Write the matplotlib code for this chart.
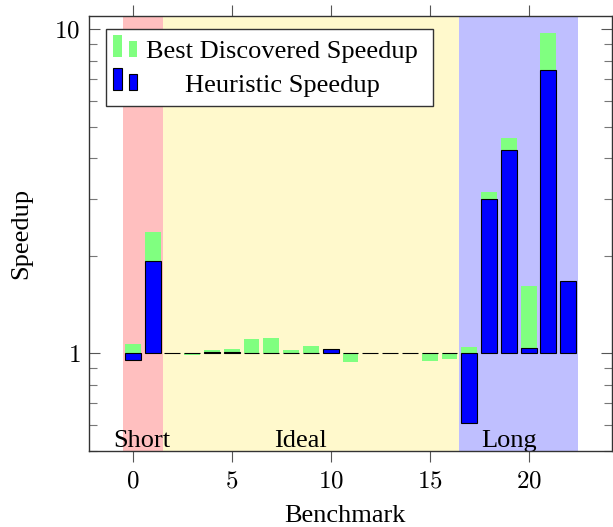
import numpy as np
import matplotlib
matplotlib.use("Agg")
import matplotlib.pyplot as plt
from matplotlib.patches import Rectangle
from matplotlib.ticker import FixedLocator, LogLocator, NullFormatter, FuncFormatter

plt.rcParams['font.family'] = ['Liberation Serif', 'DejaVu Serif']
plt.rcParams['mathtext.fontset'] = 'cm'

# data
benchmarks = np.arange(23)
best_speedup = [1.066, 2.37, 1.0, 0.99, 1.02, 1.03, 1.106, 1.11, 1.02, 1.05, 1.03, 0.94,
                1.0, 1.0, 1.0, 0.945, 0.956, 1.043, 3.14, 4.60, 1.61, 9.70, 1.67]
heur_speedup = [0.951, 1.92, 1.0, 1.0, 1.005, 1.005, 1.0, 1.0, 1.0, 1.0, 1.027, 1.0,
                1.004, 1.0, 1.0, 1.0, 1.0, 0.608, 2.99, 4.23, 1.038, 7.46, 1.67]
regions = ['Short', 'Ideal', 'Long']
region_bounds = [(-0.5, 1.5), (1.5, 16.5), (16.5, 22.5)]
region_colors = ['#FFBFBF', '#FFF9CC', '#BFBFFF']
legend_labels = ['Best Discovered Speedup', 'Heuristic Speedup']

W, H = 613, 527
fig = plt.figure(figsize=(W / 100, H / 100), dpi=100)
L, R, T, B = 88.5, 611.7, 15.7, 450.7
ax = fig.add_axes([L / W, 1 - B / H, (R - L) / W, (B - T) / H])

# shaded regions
for (lo, hi), c in zip(region_bounds, region_colors):
    ax.axvspan(lo, hi, color=c, lw=0, zorder=0)

best = np.array(best_speedup)
heur = np.array(heur_speedup)
ax.bar(benchmarks, best - 1, bottom=1, width=0.8, color='#80FF80', lw=0, zorder=2)
ax.bar(benchmarks, heur - 1, bottom=1, width=0.8, color='#0000FF',
       edgecolor='black', lw=0.8, zorder=3)

ax.set_yscale('log')
ax.set_ylim(0.5, 11.0)
ax.set_xlim(-2.24, 24.2)

ax.yaxis.set_major_locator(FixedLocator([1, 10]))
ax.yaxis.set_major_formatter(FuncFormatter(lambda v, p: r'$%d$' % round(v)))
ax.yaxis.set_minor_locator(LogLocator(base=10, subs=np.arange(2, 10)))
ax.yaxis.set_minor_formatter(NullFormatter())
ax.set_xticks([0, 5, 10, 15, 20])
ax.xaxis.set_major_formatter(FuncFormatter(lambda v, p: r'$%d$' % round(v)))

ax.tick_params(axis='y', which='major', direction='in', length=8, width=0.8,
               color='#555555', left=True, right=True, labelsize=18, pad=6)
ax.tick_params(axis='y', which='minor', direction='in', length=5.5, width=0.8,
               color='#777777', left=True, right=True)
ax.tick_params(axis='x', which='major', direction='out', length=8, width=0.8,
               color='#555555', top=True, bottom=True, labelsize=18, pad=6)
ax.tick_params(axis='x', which='minor', bottom=False, top=False)
for s in ax.spines.values():
    s.set_linewidth(1.0)
    s.set_color('#333333')
    s.set_zorder(5)

ax.set_xlabel('Benchmark', fontsize=19, va='baseline')
ax.set_ylabel('Speedup', fontsize=19, va='center')
ax.xaxis.set_label_coords(0.49, -0.164)
ax.yaxis.set_label_coords(-0.128, 0.5)


def px(x, y):
    return (x - L) / (R - L), (B - y) / (B - T)


# region names near the bottom
name_x = [142.3, 300.3, 508.8]
for name, xp in zip(regions, name_x):
    ax.text(*px(xp, 446.7), name, transform=ax.transAxes, ha='center',
            va='baseline', fontsize=19, zorder=4)

# pgfplots-style legend
x0, y0 = px(106, 29.3)
x1, y1 = px(433, 106)
ax.add_patch(Rectangle((x0, y1), x1 - x0, y0 - y1, transform=ax.transAxes,
                       facecolor='white', edgecolor='#333333', lw=1.0, zorder=6))
icons = [('#80FF80', 'none', 57.3, 35.0, 40.7, 58.3),
         ('#0000FF', 'black', 90.0, 68.3, 74.0, 91.7)]
for (fc, ec, base, top1, top2, tb), lab in zip(icons, legend_labels):
    for xa, xb, tp in [(113.3, 122.0, top1), (129.3, 137.3, top2)]:
        a0, b0 = px(xa, base)
        a1, b1 = px(xb, tp)
        ax.add_patch(Rectangle((a0, b0), a1 - a0, b1 - b0, transform=ax.transAxes,
                               facecolor=fc, edgecolor=ec, lw=0.8, zorder=7))
    ax.text(*px(282, tb), lab, transform=ax.transAxes, ha='center',
            va='baseline', fontsize=19, zorder=7)

fig.savefig('out.png', dpi=100)
